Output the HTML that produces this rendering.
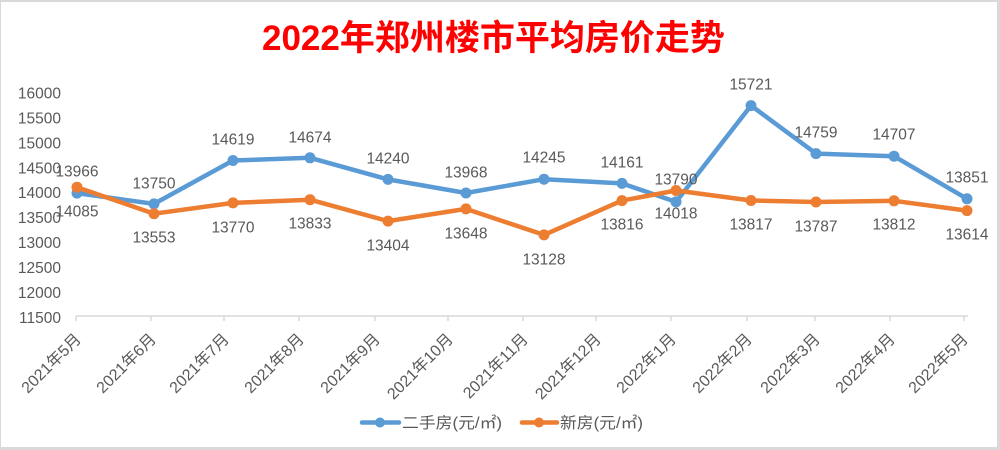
<!DOCTYPE html>
<html><head><meta charset="utf-8">
<style>
html,body{margin:0;padding:0;background:#d9d9d9;}
svg{display:block;}
text{font-family:"Liberation Sans","Noto Sans CJK SC",sans-serif;fill:#595959;}
</style></head>
<body>
<svg width="1000" height="450" viewBox="0 0 1000 450" xmlns="http://www.w3.org/2000/svg">
<rect x="1" y="2" width="996" height="445" fill="#ffffff"/>
<text x="262" y="50" font-size="35" font-weight="bold" style="fill:#ff0000">2022年郑州楼市平均房价走势</text>

<!-- y axis labels -->
<g font-size="15.5" text-anchor="end">
<text x="61" y="98.6">16000</text>
<text x="61" y="123.5">15500</text>
<text x="61" y="148.4">15000</text>
<text x="61" y="173.3">14500</text>
<text x="61" y="198.2">14000</text>
<text x="61" y="223.2">13500</text>
<text x="61" y="248.1">13000</text>
<text x="61" y="273">12500</text>
<text x="61" y="297.9">12000</text>
<text x="61" y="322.8">11500</text>
</g>

<!-- x axis -->
<line x1="76" y1="316" x2="968" y2="316" stroke="#d9d9d9" stroke-width="1.5"/>
<g stroke="#d9d9d9" stroke-width="1.5">
<line x1="76" y1="316" x2="76" y2="321"/>
<line x1="151" y1="316" x2="151" y2="321"/>
<line x1="224" y1="316" x2="224" y2="321"/>
<line x1="299" y1="316" x2="299" y2="321"/>
<line x1="375" y1="316" x2="375" y2="321"/>
<line x1="448" y1="316" x2="448" y2="321"/>
<line x1="523" y1="316" x2="523" y2="321"/>
<line x1="596" y1="316" x2="596" y2="321"/>
<line x1="671" y1="316" x2="671" y2="321"/>
<line x1="747" y1="316" x2="747" y2="321"/>
<line x1="815" y1="316" x2="815" y2="321"/>
<line x1="890" y1="316" x2="890" y2="321"/>
<line x1="964" y1="316" x2="964" y2="321"/>
</g>
<g font-size="16" text-anchor="end">
<text transform="translate(82,340) rotate(-45)">2021年5月</text>
<text transform="translate(157,340) rotate(-45)">2021年6月</text>
<text transform="translate(230,340) rotate(-45)">2021年7月</text>
<text transform="translate(305,340) rotate(-45)">2021年8月</text>
<text transform="translate(381,340) rotate(-45)">2021年9月</text>
<text transform="translate(454,340) rotate(-45)">2021年10月</text>
<text transform="translate(529,340) rotate(-45)">2021年11月</text>
<text transform="translate(602,340) rotate(-45)">2021年12月</text>
<text transform="translate(677,340) rotate(-45)">2022年1月</text>
<text transform="translate(753,340) rotate(-45)">2022年2月</text>
<text transform="translate(821,340) rotate(-45)">2022年3月</text>
<text transform="translate(896,340) rotate(-45)">2022年4月</text>
<text transform="translate(969,340) rotate(-45)">2022年5月</text>
</g>

<!-- blue series -->
<polyline fill="none" stroke="#5b9bd5" stroke-width="4.5" stroke-linejoin="round" stroke-linecap="round"
points="77,193.1 154,203.9 233,160.5 310,157.8 388,179.4 466,193 544,179.2 622,183.4 676,201.9 751,105.6 816,153.6 894,156.2 967,198.8"/>
<g fill="#5b9bd5">
<circle cx="77" cy="193.1" r="5.5"/><circle cx="154" cy="203.9" r="5.5"/><circle cx="233" cy="160.5" r="5.5"/>
<circle cx="310" cy="157.8" r="5.5"/><circle cx="388" cy="179.4" r="5.5"/><circle cx="466" cy="193" r="5.5"/>
<circle cx="544" cy="179.2" r="5.5"/><circle cx="622" cy="183.4" r="5.5"/><circle cx="676" cy="201.9" r="5.5"/>
<circle cx="751" cy="105.6" r="5.5"/><circle cx="816" cy="153.6" r="5.5"/><circle cx="894" cy="156.2" r="5.5"/>
<circle cx="967" cy="198.8" r="5.5"/>
</g>

<!-- orange series -->
<polyline fill="none" stroke="#ed7d31" stroke-width="4.5" stroke-linejoin="round" stroke-linecap="round"
points="77,187.2 154,213.7 233,202.9 310,199.7 388,221.1 466,208.9 544,234.9 622,200.6 676,190.5 751,200.5 816,202 894,200.8 967,210.6"/>
<g fill="#ed7d31">
<circle cx="77" cy="187.2" r="5.5"/><circle cx="154" cy="213.7" r="5.5"/><circle cx="233" cy="202.9" r="5.5"/>
<circle cx="310" cy="199.7" r="5.5"/><circle cx="388" cy="221.1" r="5.5"/><circle cx="466" cy="208.9" r="5.5"/>
<circle cx="544" cy="234.9" r="5.5"/><circle cx="622" cy="200.6" r="5.5"/><circle cx="676" cy="190.5" r="5.5"/>
<circle cx="751" cy="200.5" r="5.5"/><circle cx="816" cy="202" r="5.5"/><circle cx="894" cy="200.8" r="5.5"/>
<circle cx="967" cy="210.6" r="5.5"/>
</g>

<!-- data labels -->
<g font-size="15.5" text-anchor="middle">
<text x="77" y="176.5">13966</text>
<text x="154" y="188.5">13750</text>
<text x="233" y="144.5">14619</text>
<text x="310" y="142.5">14674</text>
<text x="388" y="163.5">14240</text>
<text x="466" y="177.5">13968</text>
<text x="544" y="162.5">14245</text>
<text x="622" y="167.5">14161</text>
<text x="676" y="184.5">13790</text>
<text x="751" y="89.5">15721</text>
<text x="816" y="137.5">14759</text>
<text x="894" y="139.5">14707</text>
<text x="967" y="182.5">13851</text>

<text x="77" y="216.5">14085</text>
<text x="154" y="242.5">13553</text>
<text x="233" y="232.5">13770</text>
<text x="310" y="228.5">13833</text>
<text x="388" y="250.5">13404</text>
<text x="466" y="238.5">13648</text>
<text x="544" y="264.5">13128</text>
<text x="622" y="229.5">13816</text>
<text x="676" y="218.5">14018</text>
<text x="751" y="229.5">13817</text>
<text x="816" y="231.5">13787</text>
<text x="894" y="229.5">13812</text>
<text x="967" y="239.5">13614</text>
</g>

<!-- legend -->
<line x1="362" y1="422.5" x2="399" y2="422.5" stroke="#5b9bd5" stroke-width="4.5" stroke-linecap="round"/>
<circle cx="380" cy="422.5" r="5" fill="#5b9bd5"/>
<text x="402" y="428" font-size="15.5" textLength="100" lengthAdjust="spacingAndGlyphs">二手房(元/㎡)</text>
<line x1="522" y1="422.5" x2="557" y2="422.5" stroke="#ed7d31" stroke-width="4.5" stroke-linecap="round"/>
<circle cx="539" cy="422.5" r="5" fill="#ed7d31"/>
<text x="560" y="428" font-size="15.5" textLength="83" lengthAdjust="spacingAndGlyphs">新房(元/㎡)</text>
</svg>
</body></html>
